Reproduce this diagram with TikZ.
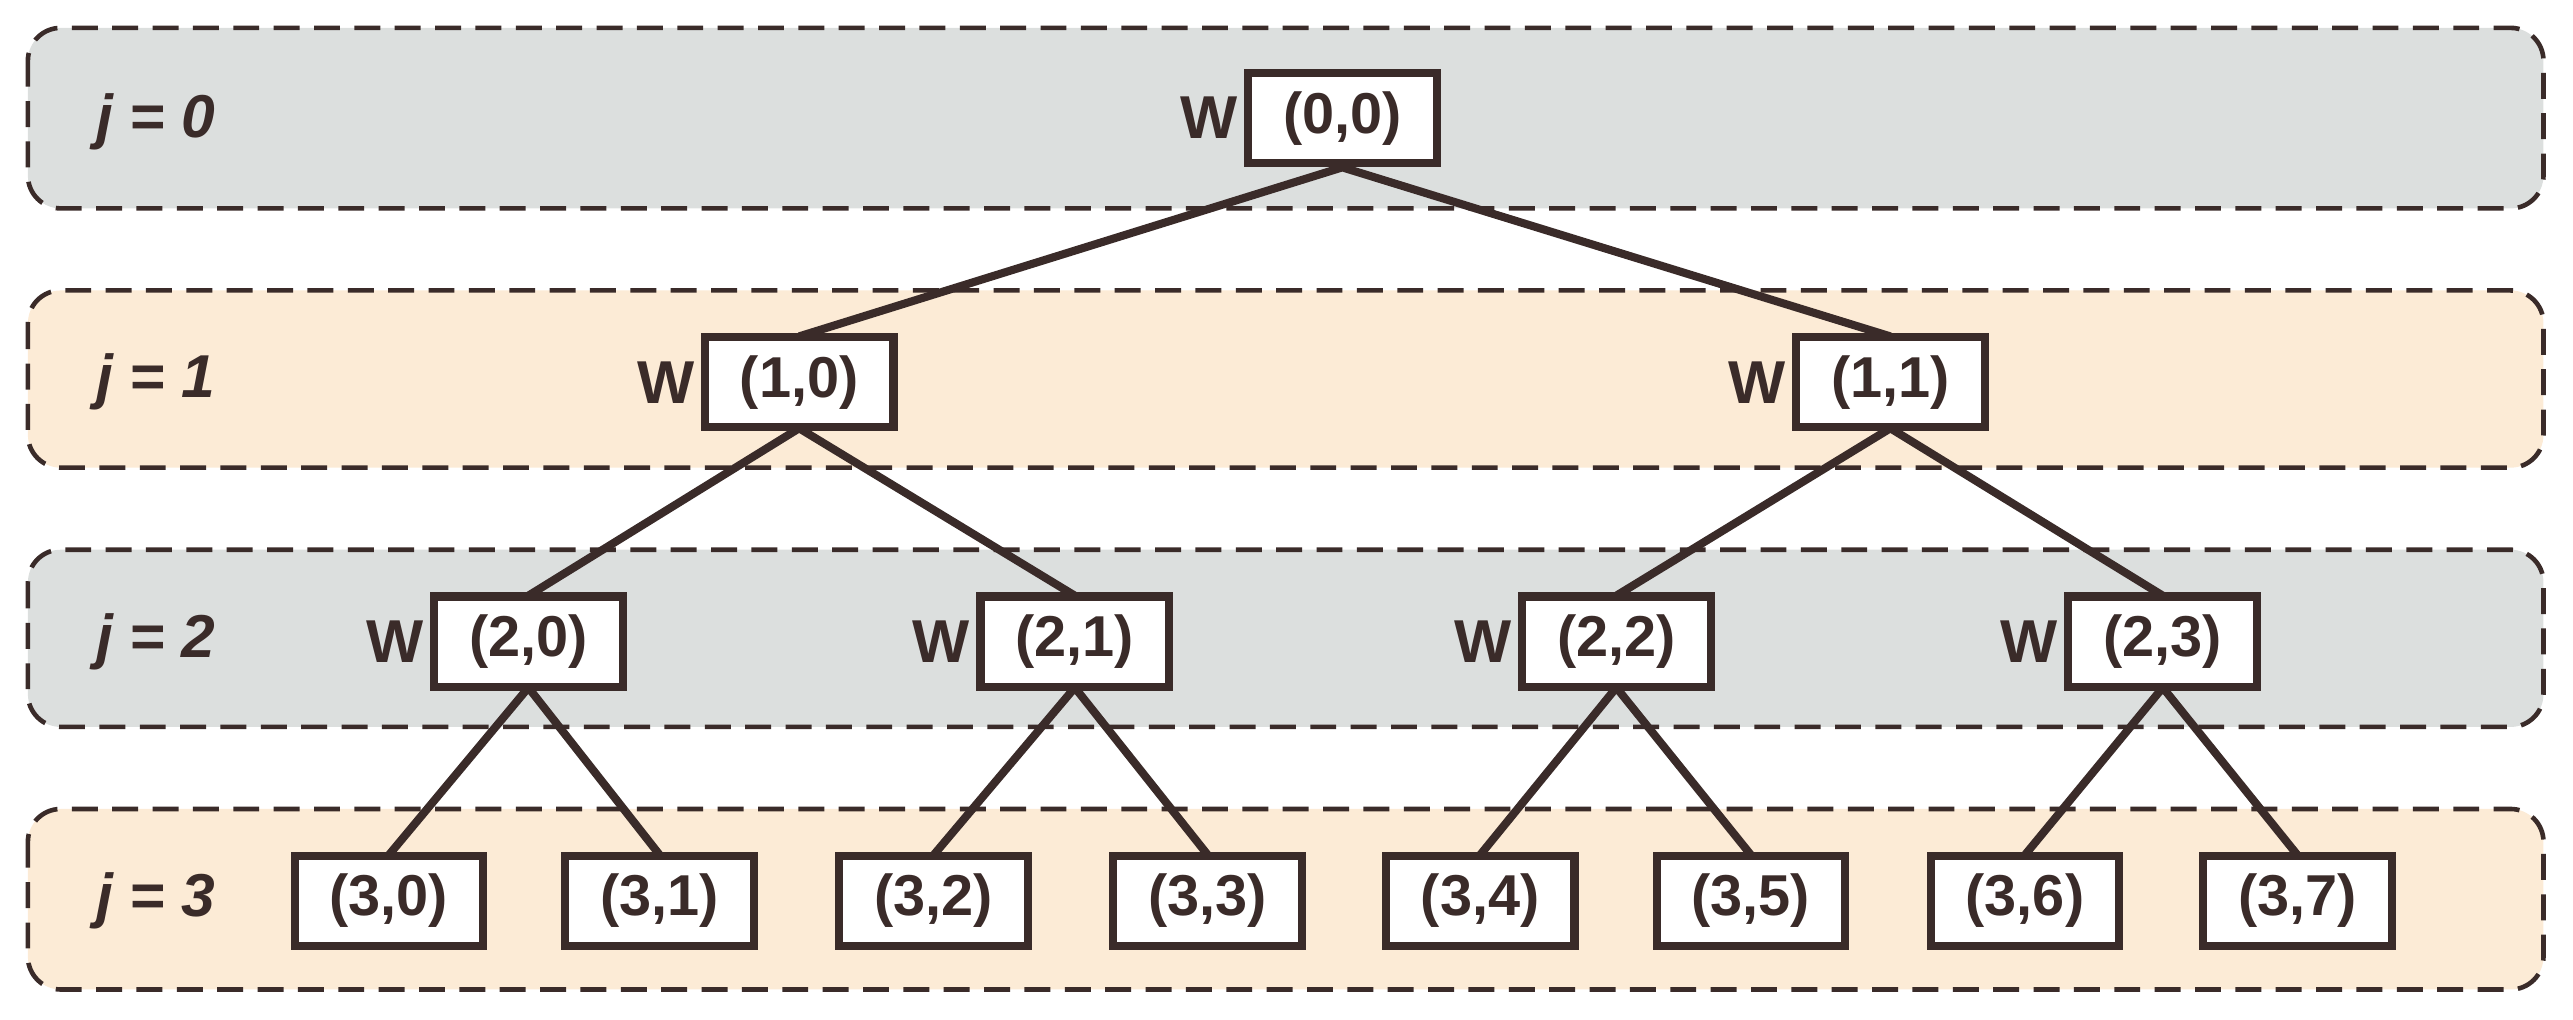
\documentclass[tikz,border=0pt]{standalone}
\usepackage{fontspec}
\setmainfont{Liberation Sans}
\begin{document}
\definecolor{ink}{HTML}{3A2B29}
\definecolor{bandg}{HTML}{DCDFDE}
\definecolor{bando}{HTML}{FCEBD6}
\begin{tikzpicture}[x=0.02cm,y=-0.02cm,
  band/.style={draw=ink,line width=1.6pt,dash pattern=on 9pt off 5pt,rounded corners=0.4cm},
  box/.style={draw=ink,fill=white,line width=2.8pt,minimum width=2.3cm,minimum height=1.1cm,inner sep=0pt,font=\fontsize{20}{22}\selectfont\bfseries,text=ink},
  wl/.style={font=\fontsize{21}{23}\selectfont\bfseries,text=ink,anchor=east,inner sep=2pt},
  jl/.style={font=\fontsize{21}{23}\selectfont\bfseries\itshape,text=ink},
  edge/.style={draw=ink,line width=2.8pt}]
\useasboundingbox (0,0) rectangle (1568,621);
\draw[band,fill=bandg] (17,17) rectangle (1550,127);
\draw[band,fill=bando] (17,177) rectangle (1550,285);
\draw[band,fill=bandg] (17,335) rectangle (1550,443);
\draw[band,fill=bando] (17,493) rectangle (1550,603);
\node[jl] (j0) at (95,74) {j = 0};
\node[jl] (j1) at (95,233) {j = 1};
\node[jl] (j2) at (95,391) {j = 2};
\node[jl] (j3) at (95,549) {j = 3};
% edges first
\coordinate (b00) at (818,102);
\coordinate (t10) at (487,205);\coordinate (t11) at (1152,205);
\coordinate (b10) at (487,261);\coordinate (b11) at (1152,261);
\foreach \x/\n in {322/0,655/1,985/2,1318/3}{\coordinate (t2\n) at (\x,363);\coordinate (b2\n) at (\x,419);}
\foreach \x/\n in {237/0,402/1,569/2,736/3,902/4,1067/5,1234/6,1400/7}{\coordinate (t3\n) at (\x,521);}
\draw[edge] (b00)--(t10) (b00)--(t11) (b10)--(t20) (b10)--(t21) (b11)--(t22) (b11)--(t23)
 (b20)--(t30) (b20)--(t31) (b21)--(t32) (b21)--(t33) (b22)--(t34) (b22)--(t35) (b23)--(t36) (b23)--(t37);
\node[box] (n00) at (818,72) {(0,0)}; \node[wl] (w00) at (n00.west) {W};
\node[box] (n10) at (487,233) {(1,0)}; \node[wl] (w10) at (n10.west) {W};
\node[box] (n11) at (1152,233) {(1,1)}; \node[wl] (w11) at (n11.west) {W};
\foreach \x/\n in {322/0,655/1,985/2,1318/3}{\node[box] (n2\n) at (\x,391) {(2,\n)}; \node[wl] (w2\n) at (n2\n.west) {W};}
\foreach \x/\n in {237/0,402/1,569/2,736/3,902/4,1067/5,1234/6,1400/7}{\node[box] (n3\n) at (\x,549) {(3,\n)};}
\end{tikzpicture}
\end{document}
